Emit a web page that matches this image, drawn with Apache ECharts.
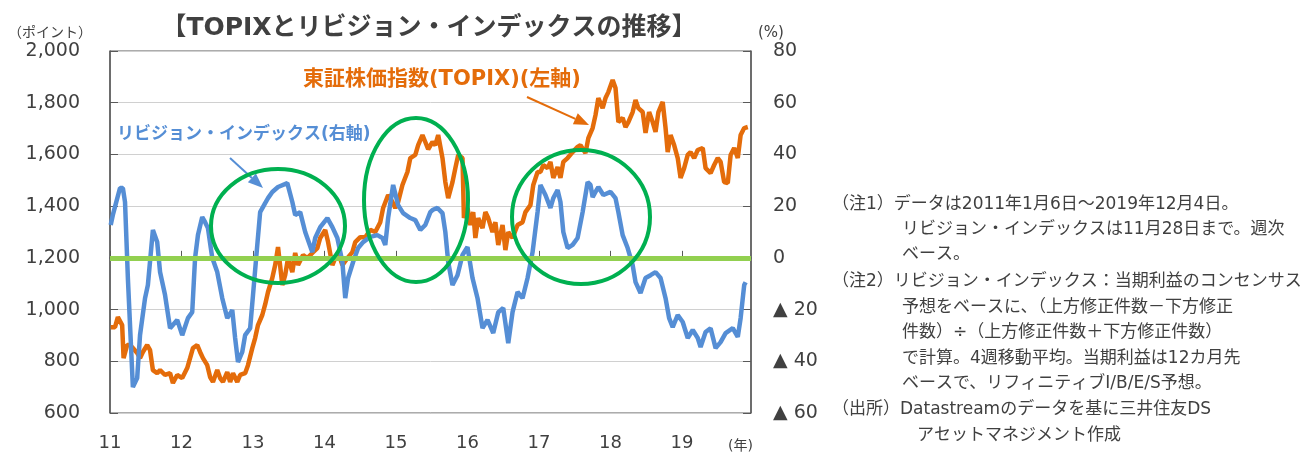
<!DOCTYPE html>
<html>
<head>
<meta charset="utf-8">
<script src="https://cdn.jsdelivr.net/npm/echarts@6/dist/echarts.min.js"></script>
<style>
    html, body { margin: 0; padding: 0; background: #ffffff; }
    #chart { width: 1314px; height: 452px; }
</style>
</head>
<body>
<div id="chart"></div>
<script>
// TOPIX (left axis), weekly
const topixT = [2011.01, 2011.07, 2011.11, 2011.17, 2011.19, 2011.24, 2011.28, 2011.32, 2011.38, 2011.42, 2011.46, 2011.52, 2011.56, 2011.60, 2011.66, 2011.70, 2011.77, 2011.84, 2011.88, 2011.94,
    2012.01, 2012.08, 2012.12, 2012.16, 2012.22, 2012.26, 2012.30, 2012.36, 2012.40, 2012.44, 2012.50, 2012.54, 2012.58, 2012.64, 2012.68, 2012.72, 2012.78, 2012.82, 2012.89, 2012.93, 2012.99,
    2013.03, 2013.07, 2013.13, 2013.17, 2013.21, 2013.27, 2013.31, 2013.35, 2013.41, 2013.45, 2013.49, 2013.55, 2013.59, 2013.63, 2013.70, 2013.76, 2013.83, 2013.90, 2013.94,
    2014.01, 2014.05, 2014.11, 2014.15, 2014.19, 2014.25, 2014.32, 2014.39, 2014.43, 2014.50, 2014.57, 2014.64, 2014.71, 2014.78, 2014.82, 2014.89, 2014.95, 2014.99,
    2015.03, 2015.09, 2015.16, 2015.20, 2015.27, 2015.31, 2015.37, 2015.41, 2015.45, 2015.51, 2015.55, 2015.59, 2015.65, 2015.69, 2015.73, 2015.79, 2015.83, 2015.87, 2015.93, 2015.95,
    2016.00, 2016.04, 2016.08, 2016.11, 2016.15, 2016.21, 2016.25, 2016.29, 2016.35, 2016.39, 2016.43, 2016.49, 2016.53, 2016.57, 2016.63, 2016.70, 2016.77, 2016.81, 2016.88, 2016.92, 2016.98,
    2017.02, 2017.06, 2017.12, 2017.16, 2017.20, 2017.26, 2017.30, 2017.34, 2017.40, 2017.47, 2017.54, 2017.58, 2017.65, 2017.69, 2017.75, 2017.79, 2017.83, 2017.89, 2017.93, 2017.97,
    2018.03, 2018.07, 2018.11, 2018.17, 2018.21, 2018.25, 2018.31, 2018.35, 2018.39, 2018.45, 2018.49, 2018.54, 2018.59, 2018.63, 2018.67, 2018.73, 2018.77, 2018.80, 2018.84, 2018.89, 2018.94, 2018.98,
    2019.03, 2019.08, 2019.12, 2019.17, 2019.22, 2019.29, 2019.33, 2019.40, 2019.45, 2019.50, 2019.54, 2019.59, 2019.64, 2019.68, 2019.73, 2019.78, 2019.82, 2019.87, 2019.92]
const topixV = [932, 932, 971, 940, 812, 863, 863, 851, 832, 812, 836, 863, 843, 766, 754, 766, 747, 754, 716, 747,
    735, 774, 812, 851, 863, 836, 812, 785, 739, 720, 766, 735, 720, 758, 720, 754, 720, 747, 754, 785, 851,
    890, 940, 979, 1020, 1068, 1122, 1172, 1242, 1095, 1133, 1199, 1145, 1219, 1172, 1211, 1199, 1219, 1238, 1277,
    1308, 1261, 1172, 1199, 1222, 1172, 1199, 1222, 1261, 1280, 1280, 1308, 1300, 1338, 1393, 1443, 1416, 1393,
    1416, 1482, 1532, 1586, 1598, 1636, 1675, 1648, 1620, 1648, 1636, 1675, 1586, 1493, 1431, 1493, 1547, 1598, 1586, 1354,
    1393, 1327, 1377, 1277, 1354, 1315, 1377, 1354, 1300, 1338, 1250, 1327, 1230, 1300, 1277, 1327, 1338, 1377, 1404, 1482, 1532,
    1532, 1559, 1547, 1571, 1509, 1551, 1509, 1571, 1586, 1609, 1629, 1636, 1605, 1663, 1702, 1752, 1818, 1779, 1818, 1841,
    1888, 1857, 1725, 1741, 1706, 1725, 1764, 1810, 1779, 1764, 1683, 1764, 1725, 1687, 1764, 1803, 1702, 1609, 1675, 1636, 1586, 1509,
    1547, 1598, 1609, 1586, 1617, 1625, 1547, 1528, 1559, 1586, 1571, 1493, 1489, 1598, 1625, 1586, 1675, 1702, 1706]

// revision index (right axis, %)
const revT = [2011.01, 2011.04, 2011.14, 2011.18, 2011.21, 2011.25, 2011.32, 2011.38, 2011.42, 2011.49, 2011.53, 2011.60, 2011.66, 2011.70, 2011.77, 2011.84, 2011.94,
    2012.01, 2012.09, 2012.15, 2012.19, 2012.23, 2012.29, 2012.33, 2012.37, 2012.43, 2012.50, 2012.57, 2012.64, 2012.71, 2012.75, 2012.79, 2012.85, 2012.89, 2012.96,
    2013.00, 2013.06, 2013.10, 2013.17, 2013.21, 2013.27, 2013.35, 2013.48, 2013.55, 2013.59, 2013.66, 2013.73, 2013.83, 2013.87, 2013.94,
    2014.04, 2014.11, 2014.18, 2014.25, 2014.29, 2014.33, 2014.40, 2014.47, 2014.54, 2014.64, 2014.74, 2014.81, 2014.85, 2014.89, 2014.96,
    2015.03, 2015.10, 2015.20, 2015.27, 2015.34, 2015.41, 2015.48, 2015.51, 2015.58, 2015.65, 2015.69, 2015.73, 2015.79, 2015.86, 2015.93,
    2016.00, 2016.07, 2016.14, 2016.21, 2016.28, 2016.36, 2016.43, 2016.50, 2016.57, 2016.63, 2016.70, 2016.77, 2016.84, 2016.91, 2016.98,
    2017.02, 2017.09, 2017.16, 2017.20, 2017.26, 2017.30, 2017.34, 2017.40, 2017.47, 2017.54, 2017.61, 2017.68, 2017.72, 2017.75, 2017.79, 2017.83, 2017.90,
    2018.00, 2018.07, 2018.11, 2018.17, 2018.24, 2018.31, 2018.35, 2018.42, 2018.49, 2018.56, 2018.63, 2018.70, 2018.77, 2018.82, 2018.87, 2018.94,
    2019.01, 2019.08, 2019.15, 2019.22, 2019.26, 2019.33, 2019.40, 2019.47, 2019.54, 2019.61, 2019.71, 2019.78, 2019.82, 2019.87, 2019.89]
const revV = [12.7, 16.6, 27.0, 27.0, 21.6, -7.8, -50.0, -46.5, -29.9, -15.6, -10.5, 10.8, 6.1, -5.5, -14.4, -27.2, -24.0,
    -29.9, -23.3, -21.0, 0.0, 8.8, 15.8, 13.8, 11.5, 0.0, -5.5, -15.6, -23.3, -20.2, -31.0, -40.3, -36.4, -29.9, -27.2,
    -14.4, 5.0, 17.7, 21.2, 23.1, 25.5, 27.4, 28.9, 21.6, 16.6, 17.7, 10.0, 2.2, 7.7, 11.9,
    15.4, 11.9, 7.7, -1.6, -15.6, -7.8, -1.6, 3.8, 6.1, 8.1, 8.8, 7.7, 5.0, 15.4, 28.2,
    20.4, 17.3, 15.4, 14.6, 10.8, 12.7, 17.7, 18.5, 19.3, 17.3, 10.0, -1.6, -10.5, -6.7, 1.1,
    4.2, -7.8, -15.6, -27.2, -24.0, -29.1, -21.0, -19.4, -33.0, -21.0, -13.2, -15.6, -7.8, 2.2, 17.7,
    28.2, 24.3, 19.3, 23.1, 26.2, 21.6, 10.0, 3.8, 5.0, 7.7, 17.7, 29.3, 28.2, 23.5, 25.5, 27.4, 24.3,
    25.5, 23.1, 17.7, 8.8, 3.8, -2.8, -9.4, -13.6, -7.8, -6.7, -5.5, -7.8, -15.6, -23.3, -26.8, -22.1,
    -24.8, -31.0, -27.9, -31.0, -34.5, -28.7, -27.2, -34.9, -32.6, -29.1, -27.2, -30.6, -23.3, -10.5, -9.4]

const yearTicks = [2011, 2012, 2013, 2014, 2015, 2016, 2017, 2018, 2019]
const yearLabels = ['11', '12', '13', '14', '15', '16', '17', '18', '19']

const FONT = '"DejaVu Sans", "Noto Sans CJK JP", sans-serif'
const TEXT = '#404040'
const ORANGE = '#E46C0A'
const BLUE = '#558ED5'
const GREEN = '#00B050'

const zip = (t, v) => t.map((x, i) => [x, v[i]])

function text(x, y, str, size, opts) {
    opts = opts || {}
    return {
        type: 'text',
        z: 100,
        style: {
            x: x,
            y: y,
            text: str,
            fill: opts.color || TEXT,
            font: (opts.bold ? 'bold ' : '') + size + 'px ' + FONT,
            align: opts.align || 'left',
            textAlign: opts.align || 'left',
            verticalAlign: 'middle',
            textVerticalAlign: 'middle',
        },
    }
}

function arrow(x1, y1, x2, y2, color) {
    const a = Math.atan2(y2 - y1, x2 - x1)
    const len = 15, half = 6
    const bx = x2 - len * Math.cos(a), by = y2 - len * Math.sin(a)
    const px = -Math.sin(a) * half, py = Math.cos(a) * half
    return [
        {
            type: 'line', z: 100,
            shape: { x1: x1, y1: y1, x2: bx, y2: by },
            style: { stroke: color, lineWidth: 2 },
        },
        {
            type: 'polygon', z: 100,
            shape: { points: [[x2, y2], [bx + px, by + py], [bx - px, by - py]] },
            style: { fill: color },
        },
    ]
}

function ring(cx, cy, rx, ry) {
    return {
        type: 'ellipse', z: 100,
        shape: { cx: cx, cy: cy, rx: rx, ry: ry },
        style: { fill: 'none', stroke: GREEN, lineWidth: 4 },
    }
}

// notes column on the right
const notes = [
    text(832, 205, '（注1）データは2011年1月6日～2019年12月4日。', 17),
    text(902, 230, 'リビジョン・インデックスは11月28日まで。週次', 17),
    text(902, 255, 'ベース。', 17),
    text(832, 282, '（注2）リビジョン・インデックス：当期利益のコンセンサス', 17),
    text(902, 308, '予想をベースに、（上方修正件数－下方修正', 17),
    text(902, 333, '件数）÷（上方修正件数＋下方修正件数）', 17),
    text(902, 359, 'で計算。4週移動平均。当期利益は12カ月先', 17),
    text(902, 384, 'ベースで、リフィニティブI/B/E/S予想。', 17),
    text(832, 410, '（出所）Datastreamのデータを基に三井住友DS', 17),
    text(917, 436, 'アセットマネジメント作成', 17),
]

const chart = echarts.init(document.getElementById('chart'))

const option = {
    animation: false,
    backgroundColor: '#ffffff',
    grid: {
        left: 110,
        right: 563,
        top: 51,
        bottom: 39,
        show: true,
        borderColor: '#595959',
        borderWidth: 1,
        containLabel: false,
    },
    xAxis: {
        type: 'value',
        min: 2011,
        max: 2019.965,
        interval: 1,
        axisLine: { lineStyle: { color: '#595959', width: 1.5 } },
        axisTick: { inside: true, length: 7, lineStyle: { color: '#595959' } },
        splitLine: { show: false },
        axisLabel: {
            color: TEXT,
            fontSize: 18,
            fontFamily: FONT,
            margin: 21,
            showMaxLabel: false,
            formatter: (v) => {
                const i = yearTicks.indexOf(v)
                return i >= 0 ? yearLabels[i] : ''
            },
        },
    },
    yAxis: [
        {
            type: 'value',
            min: 600,
            max: 2000,
            interval: 200,
            axisLine: { show: true, lineStyle: { color: '#595959', width: 1.5 } },
            axisTick: { show: true, inside: true, length: 8, lineStyle: { color: '#595959' } },
            splitLine: { show: true, lineStyle: { color: '#D0D0D0', width: 1 } },
            axisLabel: {
                color: TEXT,
                fontSize: 19,
                fontFamily: FONT,
                margin: 30,
                formatter: (v) => v.toLocaleString('en-US'),
            },
        },
        {
            type: 'value',
            min: -60,
            max: 80,
            interval: 20,
            position: 'right',
            axisLine: { show: true, lineStyle: { color: '#595959', width: 1.5 } },
            axisTick: { show: true, inside: true, length: 8, lineStyle: { color: '#595959' } },
            splitLine: { show: false },
            axisLabel: {
                color: TEXT,
                fontSize: 19,
                fontFamily: FONT,
                margin: 22,
                formatter: (v) => (v < 0 ? '▲ ' + (-v) : String(v)),
            },
        },
    ],
    series: [
        {
            name: '東証株価指数(TOPIX)',
            type: 'line',
            yAxisIndex: 0,
            data: zip(topixT, topixV),
            showSymbol: false,
            lineStyle: { color: ORANGE, width: 4.5 },
            z: 3,
        },
        {
            name: 'リビジョン・インデックス',
            type: 'line',
            yAxisIndex: 1,
            data: zip(revT, revV),
            showSymbol: false,
            lineStyle: { color: BLUE, width: 4.5 },
            z: 4,
            markLine: {
                silent: true,
                symbol: 'none',
                label: { show: false },
                lineStyle: { color: '#92D050', width: 5, type: 'solid' },
                data: [{ yAxis: 0 }],
            },
        },
    ],
    graphic: [
        text(429, 28, '【TOPIXとリビジョン・インデックスの推移】', 25, { bold: true, align: 'center' }),
        text(8, 33, '（ポイント）', 14),
        text(758, 33, '(%)', 15),
        text(728, 446, '(年)', 14),
        text(303, 80, '東証株価指数(TOPIX)(左軸)', 21, { bold: true, color: ORANGE }),
        text(117, 135, 'リビジョン・インデックス(右軸)', 17, { bold: true, color: BLUE }),
        ...arrow(527, 97, 589, 125, ORANGE),
        ...arrow(230, 158, 263, 188, BLUE),
        ring(278, 226, 67, 57),
        ring(416, 200, 52, 82),
        ring(581, 217, 69, 67),
        ...notes,
    ],
}

chart.setOption(option)
</script>
</body>
</html>
